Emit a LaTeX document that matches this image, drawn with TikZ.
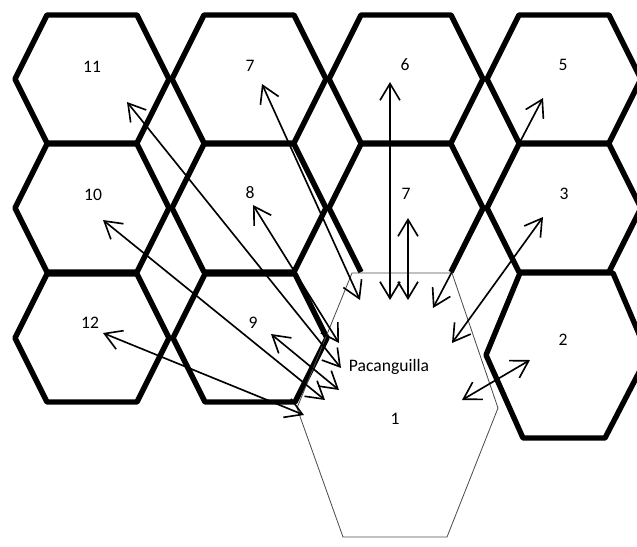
\documentclass[tikz,border=0pt]{standalone}
\usepackage{fontspec}
\setmainfont{Carlito}
\usetikzlibrary{arrows.meta}

\begin{document}
\begin{tikzpicture}[x=0.03cm,y=-0.03cm,
        hexline/.style={line width=4.6pt,line join=round},
        cellline/.style={line width=0.7pt,black!70},
        link/.style={{Straight Barb[length=5mm,width=6mm]}-{Straight Barb[length=5mm,width=6mm]},line width=1.4pt},
        lbl/.style={font=\fontsize{15}{18}\selectfont}]
        \useasboundingbox (0,0) rectangle (637,546);
        % hexagons
        \foreach \cx/\cy in {92/79,249/79,406/79,564/79,92/208,249/208,564/208,92/338,250/338}
            \draw[hexline] (\cx-77,\cy) -- (\cx-45,\cy-64) -- (\cx+45,\cy-64) -- (\cx+77,\cy) -- (\cx+45,\cy+64) -- (\cx-45,\cy+64) -- cycle;
        \draw[hexline] (361,272) -- (329,208) -- (361,144) -- (451,144) -- (483,208) -- (451,272);
        \draw[hexline] (486,355) -- (520,273) -- (613,273) -- (648,355) -- (605,438) -- (523,438) -- cycle;
        % Pacanguilla cell
        \draw[cellline] (352,273) -- (452,273) -- (498,408) -- (447,537) -- (343,537) -- (297,408) -- cycle;
        % labels
        \node[lbl] (n11) at (92,67) {11};
        \node[lbl] (n7a) at (250,66) {7};
        \node[lbl] (n6) at (405,65) {6};
        \node[lbl] (n5) at (563,65) {5};
        \node[lbl] (n10) at (93,195) {10};
        \node[lbl] (n8) at (250,193) {8};
        \node[lbl] (n7b) at (406,194) {7};
        \node[lbl] (n3) at (564,194) {3};
        \node[lbl] (n12) at (90,323) {12};
        \node[lbl] (n9) at (253,323) {9};
        \node[lbl] (n2) at (563,340) {2};
        \node[lbl] (pac) at (389,367) {Pacanguilla};
        \node[lbl] (n1) at (395,419) {1};
        % ends of the links
        \coordinate (t11) at (127,102); \coordinate (p11) at (341,368);
        \coordinate (t7a) at (262,84);  \coordinate (p7a) at (360,300);
        \coordinate (t6) at (390,82);   \coordinate (p6) at (390,300);
        \coordinate (t7b) at (408,218); \coordinate (p7b) at (408,300);
        \coordinate (t5) at (543,98);   \coordinate (p5) at (433,308);
        \coordinate (t3) at (543,217);  \coordinate (p3) at (452,343);
        \coordinate (t2) at (530,360);  \coordinate (p2) at (462,400);
        \coordinate (t8) at (253,205);  \coordinate (p8) at (339,343);
        \coordinate (t10) at (103,220); \coordinate (p10) at (325,400);
        \coordinate (t9) at (271,334);  \coordinate (p9) at (339,390);
        \coordinate (t12) at (103,333); \coordinate (p12) at (304,415);
        % links
        \draw[link] (t11) -- (p11);
        \draw[link] (t7a) -- (p7a);
        \draw[link] (t6) -- (p6);
        \draw[link] (t7b) -- (p7b);
        \draw[link] (t5) -- (p5);
        \draw[link] (t3) -- (p3);
        \draw[link] (t2) -- (p2);
        \draw[link] (t8) -- (p8);
        \draw[link] (t10) -- (p10);
        \draw[link] (t9) -- (p9);
        \draw[link] (t12) -- (p12);
    \end{tikzpicture}
\end{document}
